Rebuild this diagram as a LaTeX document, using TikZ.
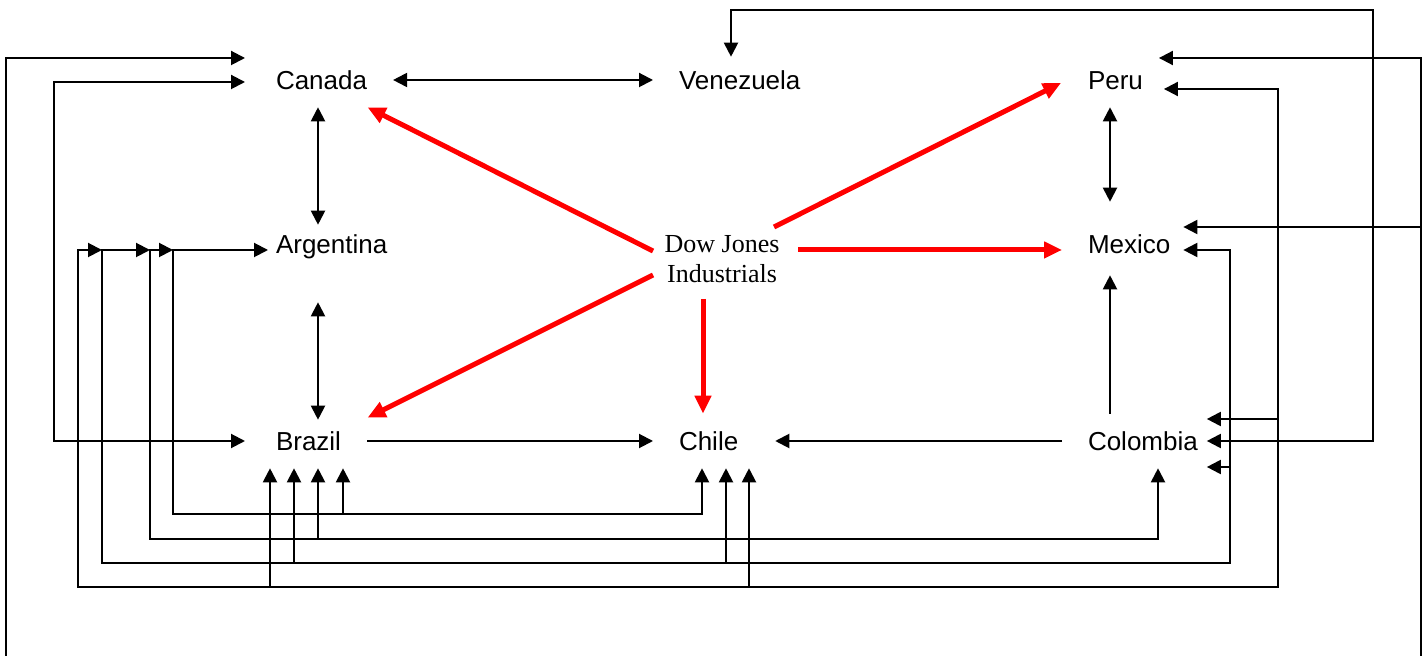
\documentclass[tikz,border=0pt]{standalone}
\usepackage{fontspec}
\setmainfont{Liberation Sans}
\newfontfamily\timesfont{Liberation Serif}
\usepackage{tikz}
\usetikzlibrary{arrows.meta, calc}
\tikzset{
  country/.style={inner sep=0pt, outer xsep=13pt, outer ysep=9pt, text height=9.3pt, text depth=0pt, anchor=west, font=\fontsize{13}{15}\selectfont},
  indexnode/.style={inner sep=0pt, align=center, font=\timesfont\fontsize{13}{15}\selectfont},
  link/.style={line width=1pt, black, >={Triangle[length=7pt,width=7pt]}},
  redlink/.style={line width=2.5pt, red, ->, >={Triangle[length=9pt,width=8pt]}}
}

\begin{document}
\begin{tikzpicture}[x=0.5pt, y=-0.5pt]
  \useasboundingbox (0,0) rectangle (1428,656);
  % countries
  \node[country] (canada) at (250,80) {Canada};
  \node[country] (venezuela) at (653,80) {Venezuela};
  \node[country] (peru) at (1062,80) {Peru};
  \node[country] (argentina) at (250,244) {Argentina};
  \node[country] (mexico) at (1062,244) {Mexico};
  \node[country] (brazil) at (250,441) {Brazil};
  \node[country] (chile) at (653,441) {Chile};
  \node[country] (colombia) at (1062,441) {Colombia};
  \node[indexnode] (dj) at (722,259) {Dow Jones\\Industrials};
  % lanes
  \coordinate (colL) at (318,0);
  \coordinate (colR) at (1110,0);
  \coordinate (colV) at (731,0);
  \coordinate (vOut) at (6,0);
  \coordinate (vCan) at (54,0);
  \coordinate (vPeru) at (78,0);
  \coordinate (vMex) at (102,0);
  \coordinate (vCol) at (150,0);
  \coordinate (vChi) at (173,0);
  \coordinate (vMexR) at (1230,0);
  \coordinate (vPeruR) at (1278,0);
  \coordinate (vVen) at (1373,0);
  \coordinate (vOutR) at (1421,0);
  \coordinate (hTop) at (0,10);
  \coordinate (hChi) at (0,514);
  \coordinate (hCol) at (0,539);
  \coordinate (hMex) at (0,563);
  \coordinate (hPeru) at (0,587);
  \coordinate (hBot) at (0,656);
  \coordinate (argIn) at ($(argentina.west)+(0,6)$);

  % red links from the index
  \draw[redlink] ($(dj)+(-69,-8)$) -- ($(canada.south)+(46,0)$);
  \draw[redlink] ($(dj)+(52,-32)$) -- ($(peru.west)+(-1,3)$);
  \draw[redlink] ($(dj)+(76,-9)$) -- ($(mexico.west)+(0,6)$);
  \draw[redlink] ($(dj)+(-69,16)$) -- ($(brazil.north)+(59,4)$);
  \draw[redlink] ($(dj)+(-19,40)$) coordinate (djs) -- (djs |- chile.north);

  % direct links
  \draw[link,<->] (canada.east) -- (venezuela.west);
  \draw[link,<->] (canada.south -| colL) -- ($(argentina.north -| colL)+(0,8)$);
  \draw[link,<->] ($(argentina.south -| colL)+(0,31)$) -- ($(brazil.north -| colL)+(0,6)$);
  \draw[link,<->] (peru.south -| colR) -- ($(mexico.north -| colR)+(0,-15)$);
  \draw[link,->] (colombia.north -| colR) -- ($(mexico.south -| colR)+(0,4)$);
  \draw[link,->] (brazil.east) -- (chile.west);
  \draw[link,->] (colombia.west) -- ($(chile.east)+(11,0)$);

  % routed links
  \draw[link,<->] ($(venezuela.north -| colV)+(0,4)$) |- (hTop -| vVen) |- ($(colombia.east)+(-17,0)$);
  \draw[link,->] (vOut |- hBot) |- ($(canada.west)+(-5,-22)$);
  \draw[link,->] (vOutR |- hBot) |- ($(peru.east)+(-10,-22)$);
  \draw[link,->] ($(vOutR |- mexico.east)+(0,-17)$) -- ($(mexico.east)+(-13,-17)$);
  \draw[link,<->] ($(canada.west)+(-5,2)$) -| (vCan |- brazil.west) -- ($(brazil.west)+(-5,0)$);

  % loops under the bottom row
  \draw[link,<->] ($(peru.east)+(-5,9)$) -| (vPeruR |- hPeru) -| (vPeru |- argIn) -- (vMex |- argIn);
  \draw[link,<->] ($(mexico.east)+(-13,6)$) -| (vMexR |- hMex) -| (vMex |- argIn) -- (vCol |- argIn);
  \draw[link,<->] (colombia.south -| 1158,0) |- (vCol |- hCol) |- (vChi |- argIn);
  \draw[link,<->] (chile.south -| 702,0) |- (vChi |- hChi) |- ($(argentina.west)+(18,6)$);
  \draw[link,->] ($(vPeruR |- colombia.east)+(0,-22)$) -- ($(colombia.east)+(-17,-22)$);
  \draw[link,->] ($(vMexR |- colombia.east)+(0,26)$) -- ($(colombia.east)+(-17,26)$);
  \foreach \bx/\lane in {270/hPeru, 294/hMex, 318/hCol, 343/hChi}
    \draw[link,->] (\lane -| \bx,0) -- (brazil.south -| \bx,0);
  \foreach \cx/\lane in {726/hMex, 749/hPeru}
    \draw[link,->] (\lane -| \cx,0) -- (chile.south -| \cx,0);
\end{tikzpicture}
\end{document}
